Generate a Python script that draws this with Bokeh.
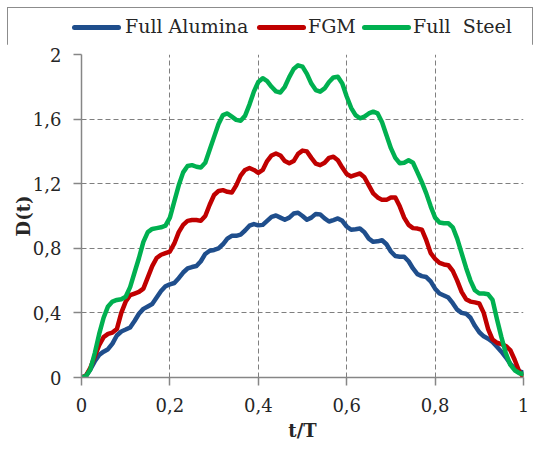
from bokeh.plotting import figure
from bokeh.layouts import column
from bokeh.models import Range1d, FixedTicker, Div
from bokeh.embed import file_html
from bokeh.resources import INLINE

t = [0.00, 0.01, 0.02, 0.03, 0.04, 0.05, 0.06, 0.07, 0.08, 0.09,
     0.10, 0.11, 0.12, 0.13, 0.14, 0.15, 0.16, 0.17, 0.18, 0.19,
     0.20, 0.21, 0.22, 0.23, 0.24, 0.25, 0.26, 0.27, 0.28, 0.29,
     0.30, 0.31, 0.32, 0.33, 0.34, 0.35, 0.36, 0.37, 0.38, 0.39,
     0.40, 0.41, 0.42, 0.43, 0.44, 0.45, 0.46, 0.47, 0.48, 0.49,
     0.50, 0.51, 0.52, 0.53, 0.54, 0.55, 0.56, 0.57, 0.58, 0.59,
     0.60, 0.61, 0.62, 0.63, 0.64, 0.65, 0.66, 0.67, 0.68, 0.69,
     0.70, 0.71, 0.72, 0.73, 0.74, 0.75, 0.76, 0.77, 0.78, 0.79,
     0.80, 0.81, 0.82, 0.83, 0.84, 0.85, 0.86, 0.87, 0.88, 0.89,
     0.90, 0.91, 0.92, 0.93, 0.94, 0.95, 0.96, 0.97, 0.98, 0.99, 1.00]

d_alumina = [0.0, 0.01, 0.05, 0.10, 0.14, 0.16, 0.175, 0.21, 0.26, 0.285,
             0.297, 0.31, 0.35, 0.395, 0.425, 0.44, 0.455, 0.495, 0.535, 0.565,
             0.577, 0.585, 0.615, 0.65, 0.675, 0.684, 0.69, 0.72, 0.765, 0.785,
             0.79, 0.80, 0.825, 0.86, 0.877, 0.877, 0.885, 0.91, 0.94, 0.95,
             0.942, 0.945, 0.97, 0.995, 1.003, 0.99, 0.977, 0.99, 1.015, 1.02,
             1.0, 0.977, 0.99, 1.013, 1.01, 0.985, 0.966, 0.975, 0.985, 0.97,
             0.935, 0.915, 0.918, 0.922, 0.90, 0.86, 0.84, 0.843, 0.85, 0.825,
             0.78, 0.752, 0.748, 0.748, 0.72, 0.675, 0.64, 0.628, 0.622, 0.595,
             0.55, 0.52, 0.508, 0.495, 0.46, 0.42, 0.40, 0.395, 0.37, 0.32,
             0.28, 0.255, 0.24, 0.22, 0.19, 0.16, 0.125, 0.085, 0.055, 0.04, 0.03]

d_fgm = [0.0, 0.01, 0.06, 0.13, 0.20, 0.25, 0.27, 0.278, 0.30, 0.40,
         0.47, 0.51, 0.52, 0.53, 0.55, 0.62, 0.69, 0.74, 0.76, 0.77,
         0.78, 0.83, 0.90, 0.945, 0.97, 0.975, 0.975, 0.97, 1.0, 1.07,
         1.13, 1.155, 1.16, 1.15, 1.145, 1.19, 1.25, 1.285, 1.297, 1.285,
         1.267, 1.285, 1.34, 1.375, 1.387, 1.375, 1.34, 1.326, 1.34, 1.385,
         1.405, 1.40, 1.36, 1.325, 1.315, 1.33, 1.36, 1.367, 1.345, 1.30,
         1.26, 1.245, 1.255, 1.263, 1.24, 1.19, 1.14, 1.115, 1.10, 1.10,
         1.115, 1.115, 1.06, 0.99, 0.945, 0.925, 0.922, 0.915, 0.85, 0.77,
         0.735, 0.71, 0.70, 0.695, 0.66, 0.60, 0.53, 0.485, 0.47, 0.465,
         0.458, 0.40, 0.30, 0.235, 0.215, 0.207, 0.195, 0.17, 0.11, 0.04, 0.0]

d_steel = [0.0, 0.008, 0.05, 0.15, 0.27, 0.37, 0.44, 0.47, 0.48, 0.485,
           0.50, 0.56, 0.65, 0.74, 0.84, 0.90, 0.92, 0.925, 0.93, 0.94,
           0.99, 1.09, 1.19, 1.27, 1.31, 1.315, 1.305, 1.30, 1.33, 1.41,
           1.49, 1.57, 1.625, 1.635, 1.615, 1.595, 1.59, 1.62, 1.69, 1.77,
           1.83, 1.853, 1.835, 1.80, 1.772, 1.765, 1.80, 1.86, 1.91, 1.933,
           1.925, 1.88, 1.82, 1.78, 1.77, 1.79, 1.83, 1.858, 1.862, 1.82,
           1.74, 1.67, 1.625, 1.605, 1.615, 1.635, 1.646, 1.635, 1.58, 1.50,
           1.42, 1.36, 1.327, 1.33, 1.345, 1.33, 1.27, 1.21, 1.14, 1.06,
           0.99, 0.96, 0.955, 0.955, 0.93, 0.86, 0.77, 0.68, 0.60, 0.54,
           0.52, 0.52, 0.515, 0.48, 0.36, 0.25, 0.15, 0.08, 0.045, 0.028, 0.02]

series_names = ["Full Alumina", "FGM", "Full\u00a0 Steel"]
series_colors = ["#1F4E8C", "#C00000", "#00B050"]

x_ticks = [0, 0.2, 0.4, 0.6, 0.8, 1.0]
x_tick_labels = ["0", "0,2", "0,4", "0,6", "0,8", "1"]
y_ticks = [0, 0.4, 0.8, 1.2, 1.6, 2.0]
y_tick_labels = ["0", "0,4", "0,8", "1,2", "1,6", "2"]

FONT = "DejaVu Serif"
LINE_W = 4.5

# ---- main chart ----
p = figure(width=540, height=407, frame_width=442, frame_height=323,
           min_border_left=81, min_border_right=17, min_border_top=10, min_border_bottom=74,
           x_range=Range1d(0, 1), y_range=Range1d(0, 2),
           output_backend="svg", toolbar_location=None)
p.background_fill_color = "white"
p.border_fill_color = "white"
p.outline_line_color = None

for ys, c in [(d_alumina, series_colors[0]), (d_fgm, series_colors[1]), (d_steel, series_colors[2])]:
    p.line(t, ys, line_color=c, line_width=LINE_W, line_join="round", line_cap="round")

for ax in (p.xaxis, p.yaxis):
    ax.axis_line_color = "#868686"
    ax.axis_line_width = 1.5
    ax.major_tick_line_color = "#868686"
    ax.major_tick_line_width = 1.5
    ax.major_tick_out = 8
    ax.major_tick_in = 0
    ax.minor_tick_line_color = None
    ax.major_label_text_font = FONT
    ax.major_label_text_font_size = "18px"
    ax.major_label_text_color = "#262626"
    ax.axis_label_text_font = FONT
    ax.axis_label_text_font_size = "18px"
    ax.axis_label_text_font_style = "bold"
    ax.axis_label_text_color = "#262626"

p.xaxis.ticker = FixedTicker(ticks=x_ticks)
p.yaxis.ticker = FixedTicker(ticks=y_ticks)
p.xaxis.major_label_overrides = {float(v): s for v, s in zip(x_ticks, x_tick_labels)}
p.yaxis.major_label_overrides = {float(v): s for v, s in zip(y_ticks, y_tick_labels)}
p.xaxis.major_label_standoff = 12
p.yaxis.major_label_standoff = 12
p.xaxis.axis_label = "t/T"
p.yaxis.axis_label = "D(t)"
p.xaxis.axis_label_standoff = 5
p.yaxis.axis_label_standoff = -4

for g in (p.xgrid, p.ygrid):
    g.grid_line_color = "#7f7f7f"
    g.grid_line_width = 1
    g.grid_line_dash = "5 3"
p.xgrid.ticker = FixedTicker(ticks=x_ticks)
p.ygrid.ticker = FixedTicker(ticks=y_ticks)

# ---- legend strip above the chart (HTML) ----
line_lefts = [72, 257, 362]
text_lefts = [125, 308, 413]
parts = []
for name, col, lx, tx in zip(series_names, series_colors, line_lefts, text_lefts):
    parts.append(
        f'<div style="position:absolute;left:{lx}px;top:25px;width:49px;height:4.5px;'
        f'background:{col};border-radius:2.5px;"></div>'
        f'<div style="position:absolute;left:{tx}px;top:15px;line-height:22px;'
        f'font-family:\'{FONT}\';font-size:19px;color:#262626;white-space:pre;">{name}</div>'
    )
legend_div = Div(text='<div style="position:relative;width:540px;height:44px;">' + "".join(parts) + "</div>",
                 width=540, height=44, margin=0)

layout = column(legend_div, p, spacing=0,
                styles={"outline": "1.5px solid #8c8c8c", "outline-offset": "-8px"})
open("out.html", "w").write(file_html(layout, INLINE))
